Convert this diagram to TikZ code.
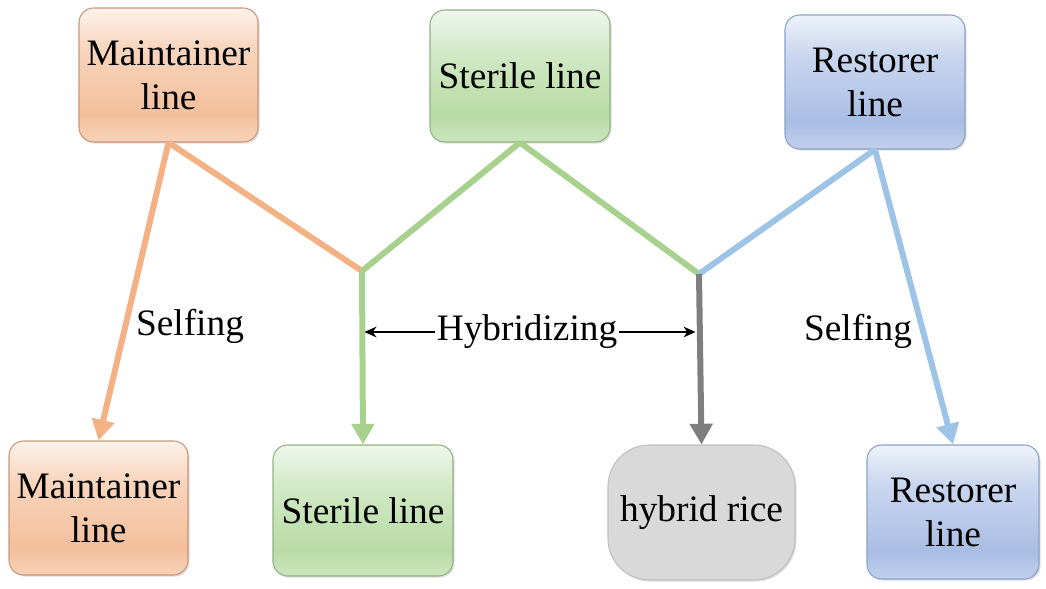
\documentclass[tikz,border=0pt]{standalone}
\usepackage{fontspec}
\setmainfont{Liberation Serif}
\usetikzlibrary{arrows.meta,shadows}
\definecolor{oT}{HTML}{FDF2EB}
\definecolor{oM}{HTML}{F8D5BD}
\definecolor{oD}{HTML}{F4BF9B}
\definecolor{oB}{HTML}{F7D3BA}
\definecolor{gT}{HTML}{EFF7EC}
\definecolor{gM}{HTML}{D3EAC7}
\definecolor{gD}{HTML}{B8DBA6}
\definecolor{gB}{HTML}{CCE6BF}
\definecolor{bT}{HTML}{EEF2FA}
\definecolor{bM}{HTML}{C9D6EF}
\definecolor{bD}{HTML}{A9BDE3}
\definecolor{bB}{HTML}{C2D0EC}
\definecolor{oLine}{HTML}{F4B183}
\definecolor{gLine}{HTML}{A9D18E}
\definecolor{bLine}{HTML}{9DC3E6}
\definecolor{kLine}{HTML}{7F7F7F}
\definecolor{oBorder}{HTML}{C9967A}
\definecolor{gBorder}{HTML}{93B182}
\definecolor{bBorder}{HTML}{8AA2C8}
\definecolor{kBorder}{HTML}{BFBFBF}
\definecolor{kFill}{HTML}{D9D9D9}
\pgfdeclareverticalshading{orangesh}{100bp}{color(0bp)=(oB); color(25bp)=(oB); color(35bp)=(oD); color(60bp)=(oM); color(75bp)=(oT); color(100bp)=(oT)}
\pgfdeclareverticalshading{greensh}{100bp}{color(0bp)=(gB); color(25bp)=(gB); color(35bp)=(gD); color(60bp)=(gM); color(75bp)=(gT); color(100bp)=(gT)}
\pgfdeclareverticalshading{bluesh}{100bp}{color(0bp)=(bB); color(25bp)=(bB); color(35bp)=(bD); color(60bp)=(bM); color(75bp)=(bT); color(100bp)=(bT)}
\tikzset{
  box/.style={rectangle, rounded corners=11pt, align=center, font=\fontsize{28}{33}\selectfont,
    inner sep=2pt, line width=0.8pt,
    drop shadow={opacity=0.25, shadow xshift=1.2pt, shadow yshift=-1.2pt}},
  obox/.style={box, draw=oBorder, shading=orangesh},
  gbox/.style={box, draw=gBorder, shading=greensh},
  bbox/.style={box, draw=bBorder, shading=bluesh},
  kbox/.style={box, draw=kBorder, fill=kFill, rounded corners=31pt},
  conn/.style={line width=4.5pt, line cap=butt, line join=miter},
  arr/.style={conn, -{Triangle[width=16.5pt,length=15.5pt]}},
  lbl/.style={font=\fontsize{28}{33}\selectfont, inner sep=1pt},
  thin arrow/.style={line width=1.3pt, -{Stealth[width=8pt,length=9pt]}}
}
\begin{document}
\begin{tikzpicture}[x=0.75pt,y=-0.75pt]
\useasboundingbox (0,0) rectangle (1046,589);
% top nodes
\node[obox, minimum width=134.25pt, minimum height=100.5pt] (mt) at (168.5,75) {Maintainer\\line};
\node[gbox, minimum width=135pt, minimum height=99pt] (st) at (520,76) {Sterile line};
\node[bbox, minimum width=135pt, minimum height=100.5pt] (rt) at (875,82) {Restorer\\line};
% bottom nodes
\node[obox, minimum width=134.25pt, minimum height=100.5pt] (mb) at (98.5,508) {Maintainer\\line};
\node[gbox, minimum width=135pt, minimum height=98.25pt] (sb) at (363,510.5) {Sterile line};
\node[kbox, minimum width=140.25pt, minimum height=101.25pt] (hr) at (701.5,512.5) {hybrid rice};
\node[bbox, minimum width=129pt, minimum height=100.5pt] (rb) at (953,512) {Restorer\\line};
% junctions
\coordinate (j1) at (362,271);
\coordinate (j2) at (699,274);
% connectors
\draw[conn, oLine] (mt.south) -- (j1);
\draw[arr, oLine] (mt.south) -- (mb.north);
\draw[conn, gLine] (st.south) -- (j1);
\draw[conn, gLine] (st.south) -- (j2);
\draw[arr, gLine] (j1) -- (sb.north);
\draw[conn, bLine] (rt.south) -- (j2);
\draw[arr, bLine] (rt.south) -- (rb.north);
\draw[arr, kLine] (j2) -- (hr.north);
% labels
\node[lbl] (sl) at (190,326) {Selfing};
\node[lbl] (sr) at (858,331) {Selfing};
\node[lbl] (hy) at (527,332) {Hybridizing};
\coordinate (hl) at (364.5,332);
\coordinate (hrr) at (695.5,332);
\draw[thin arrow] (hy.west) -- (hl);
\draw[thin arrow] (hy.east) -- (hrr);
\end{tikzpicture}
\end{document}
